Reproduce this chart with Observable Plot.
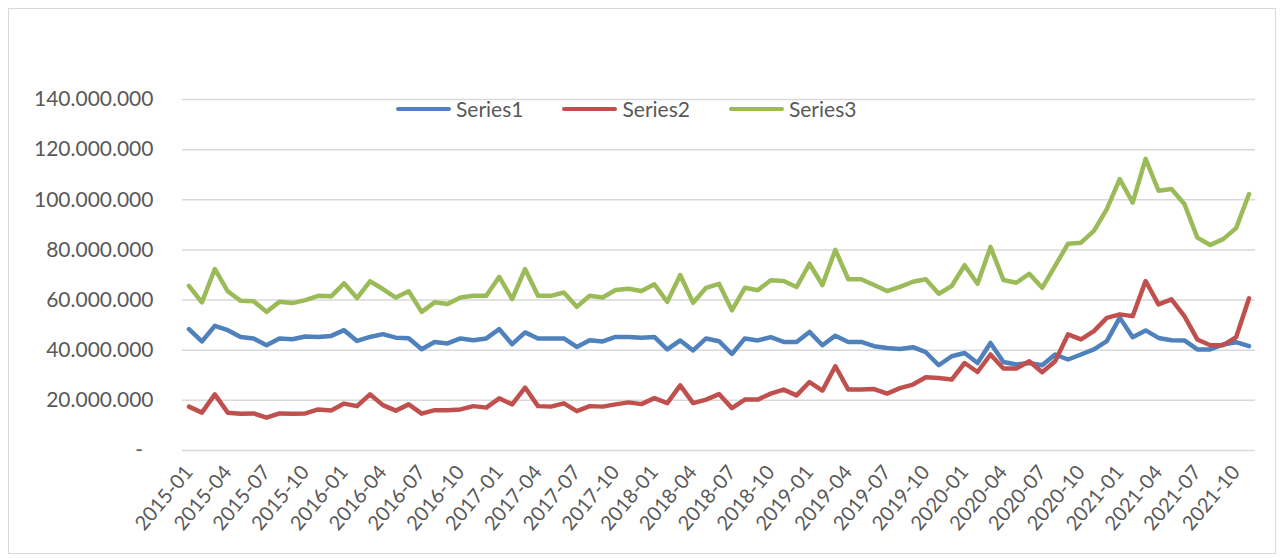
<!DOCTYPE html>
<html>
<head>
<meta charset="utf-8">
<script src="https://cdn.jsdelivr.net/npm/d3@7"></script>
<script src="https://cdn.jsdelivr.net/npm/@observablehq/plot@0.6"></script>
<style>
  html, body { margin: 0; padding: 0; background: #fff; }
  #wrap { position: relative; width: 1285px; height: 558px; overflow: hidden; font-family: Lato, sans-serif; }
  #frame { position: absolute; left: 8px; top: 8px; width: 1268px; height: 546px; border: 1px solid #D9D9D9; box-sizing: border-box; pointer-events: none; }
  #legend { position: absolute; left: 396px; top: 96px; display: flex; align-items: center; font-size: 21px; color: #595959; line-height: 26px; }
  .item { display: flex; align-items: center; margin-right: 39px; }
  .sw { width: 55px; height: 4.5px; border-radius: 3px; margin-right: 5px; }
</style>
</head>
<body>
<div id="wrap"><div id="chart"></div><div id="legend"></div><div id="frame"></div></div>
<script>
const months = [
 "2015-01","2015-02","2015-03","2015-04","2015-05","2015-06","2015-07","2015-08","2015-09","2015-10","2015-11","2015-12",
 "2016-01","2016-02","2016-03","2016-04","2016-05","2016-06","2016-07","2016-08","2016-09","2016-10","2016-11","2016-12",
 "2017-01","2017-02","2017-03","2017-04","2017-05","2017-06","2017-07","2017-08","2017-09","2017-10","2017-11","2017-12",
 "2018-01","2018-02","2018-03","2018-04","2018-05","2018-06","2018-07","2018-08","2018-09","2018-10","2018-11","2018-12",
 "2019-01","2019-02","2019-03","2019-04","2019-05","2019-06","2019-07","2019-08","2019-09","2019-10","2019-11","2019-12",
 "2020-01","2020-02","2020-03","2020-04","2020-05","2020-06","2020-07","2020-08","2020-09","2020-10","2020-11","2020-12",
 "2021-01","2021-02","2021-03","2021-04","2021-05","2021-06","2021-07","2021-08","2021-09","2021-10","2021-11"
];
// values in millions
const series1 = [
 48.4,43.5,49.7,48.0,45.3,44.7,42.0,44.7,44.4,45.5,45.3,45.7,
 48.0,43.7,45.3,46.4,45.0,44.8,40.4,43.3,42.7,44.7,44.0,44.7,
 48.4,42.4,47.1,44.7,44.7,44.7,41.3,44.0,43.5,45.3,45.3,45.0,
 45.3,40.3,43.9,39.9,44.7,43.6,38.5,44.7,43.9,45.2,43.3,43.3,
 47.3,42.0,45.8,43.3,43.3,41.6,40.9,40.5,41.2,39.2,34.0,37.6,
 38.9,34.9,42.9,35.3,34.3,34.9,34.0,38.3,36.3,38.3,40.3,43.6,
 53.0,45.2,47.9,44.9,44.0,43.9,40.3,40.3,42.3,43.2,41.6
];
const series2 = [
 17.5,15.1,22.4,15.1,14.7,14.8,13.1,14.8,14.7,14.8,16.4,16.0,
 18.7,17.7,22.4,18.1,15.9,18.4,14.7,16.1,16.1,16.4,17.7,17.1,
 20.8,18.4,25.1,17.7,17.5,18.8,15.7,17.7,17.5,18.4,19.2,18.5,
 20.9,18.9,26.0,18.9,20.3,22.5,16.9,20.3,20.3,22.7,24.3,22.0,
 27.3,23.9,33.6,24.3,24.3,24.5,22.7,24.9,26.3,29.2,28.9,28.3,
 34.9,31.3,38.3,32.7,32.7,35.6,31.2,35.6,46.3,44.3,47.6,52.9,
 54.3,53.6,67.6,58.3,60.3,53.6,44.3,42.0,42.0,45.2,60.7
];
const series3 = [
 65.7,59.1,72.4,63.5,59.7,59.5,55.3,59.3,58.8,60.0,61.7,61.5,
 66.7,60.8,67.5,64.4,61.0,63.5,55.3,59.1,58.4,61.0,61.7,61.7,
 69.3,60.4,72.4,61.7,61.7,63.0,57.3,61.7,61.0,64.0,64.5,63.6,
 66.3,59.3,70.0,58.9,64.9,66.5,55.9,64.9,63.9,67.9,67.6,65.2,
 74.5,66.0,80.0,68.3,68.3,66.0,63.6,65.3,67.3,68.3,62.5,65.6,
 73.9,66.5,81.2,68.0,66.9,70.5,64.9,73.6,82.5,82.9,87.6,96.3,
 108.3,98.9,116.3,103.6,104.3,98.3,84.9,82.0,84.3,88.7,102.3
];
const seriesNames = ["Series1","Series2","Series3"];
const seriesColors = ["#4F81BD","#C0504D","#9BBB59"];
const yTicks = [0,20e6,40e6,60e6,80e6,100e6,120e6,140e6];
const xTicks = months.filter((m, i) => i % 3 === 0);

const data = [];
[series1, series2, series3].forEach((arr, s) => {
  arr.forEach((v, i) => data.push({month: months[i], value: v * 1e6, series: seriesNames[s]}));
});

const fmt = d => d === 0 ? "-\u2002" : d3.format(",")(d).replace(/,/g, ".");

const chart = Plot.plot({
  width: 1285, height: 558,
  marginLeft: 182, marginRight: 30, marginTop: 99, marginBottom: 108,
  style: {fontFamily: "Lato, sans-serif", background: "white", color: "#595959"},
  x: {type: "point", domain: months, padding: 0.5},
  y: {domain: [0, 140e6]},
  color: {domain: seriesNames, range: seriesColors},
  marks: [
    Plot.gridY(yTicks, {stroke: "#D9D9D9", strokeOpacity: 1, strokeWidth: 1.5}),
    Plot.axisY(yTicks, {tickSize: 0, tickPadding: 29, tickFormat: fmt, fontSize: 21, fill: "#595959", label: null}),
    Plot.axisX(xTicks, {tickSize: 0, tickPadding: 18, tickRotate: -50, fontSize: 20, fill: "#595959", label: null}),
    Plot.line(data, {x: "month", y: "value", z: "series", stroke: "series", strokeWidth: 4.5, strokeLinejoin: "round", strokeLinecap: "round"})
  ]
});
document.getElementById("chart").appendChild(chart);

const legend = document.getElementById("legend");
seriesNames.forEach((n, i) => {
  const it = document.createElement("div"); it.className = "item";
  const sw = document.createElement("div"); sw.className = "sw"; sw.style.background = seriesColors[i];
  const tx = document.createElement("span"); tx.textContent = n;
  it.appendChild(sw); it.appendChild(tx); legend.appendChild(it);
});
</script>
</body>
</html>
